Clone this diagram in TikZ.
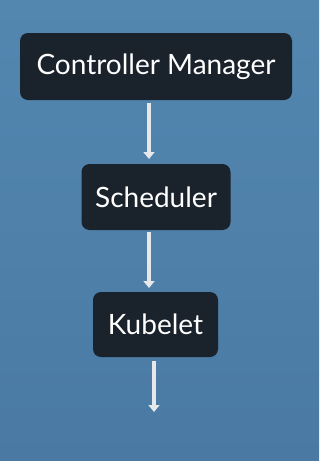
\documentclass[tikz,border=0pt]{standalone}
\usepackage{fontspec}
\setmainfont{Lato}
\usetikzlibrary{arrows.meta}
\definecolor{bgtop}{HTML}{5387B0}
\definecolor{bgbot}{HTML}{4A7AA4}
\definecolor{boxfill}{HTML}{1A222B}
\definecolor{arrowcol}{HTML}{E6E8EA}
\tikzset{
  compbox/.style={fill=boxfill, rounded corners=8pt, text=white, inner sep=0pt, font=\fontsize{28}{32}\selectfont},
  flow/.style={draw=arrowcol, line width=3.5pt, -{Triangle[width=11pt,length=7pt]}}
}
\begin{document}
\begin{tikzpicture}[x=1pt,y=-1pt]
\useasboundingbox (0,0) rectangle (319,461);
\shade[top color=bgtop, bottom color=bgbot] (0,0) rectangle (319,461);
\node[compbox, minimum width=272pt, minimum height=67pt] (cm) at (156,66.5) {Controller Manager};
\node[compbox, minimum width=149pt, minimum height=66pt] (sch) at (156,197) {Scheduler};
\node[compbox, minimum width=125pt, minimum height=65pt] (kub) at (155.5,324.5) {Kubelet};
\coordinate (c1) at (149,103);
\coordinate (c2) at (149,159);
\coordinate (c3) at (149,232);
\coordinate (c4) at (149,288);
\coordinate (c5) at (154,361);
\coordinate (c6) at (154,412);
\draw[flow] (c1) -- (c2);
\draw[flow] (c3) -- (c4);
\draw[flow] (c5) -- (c6);
\end{tikzpicture}
\end{document}
